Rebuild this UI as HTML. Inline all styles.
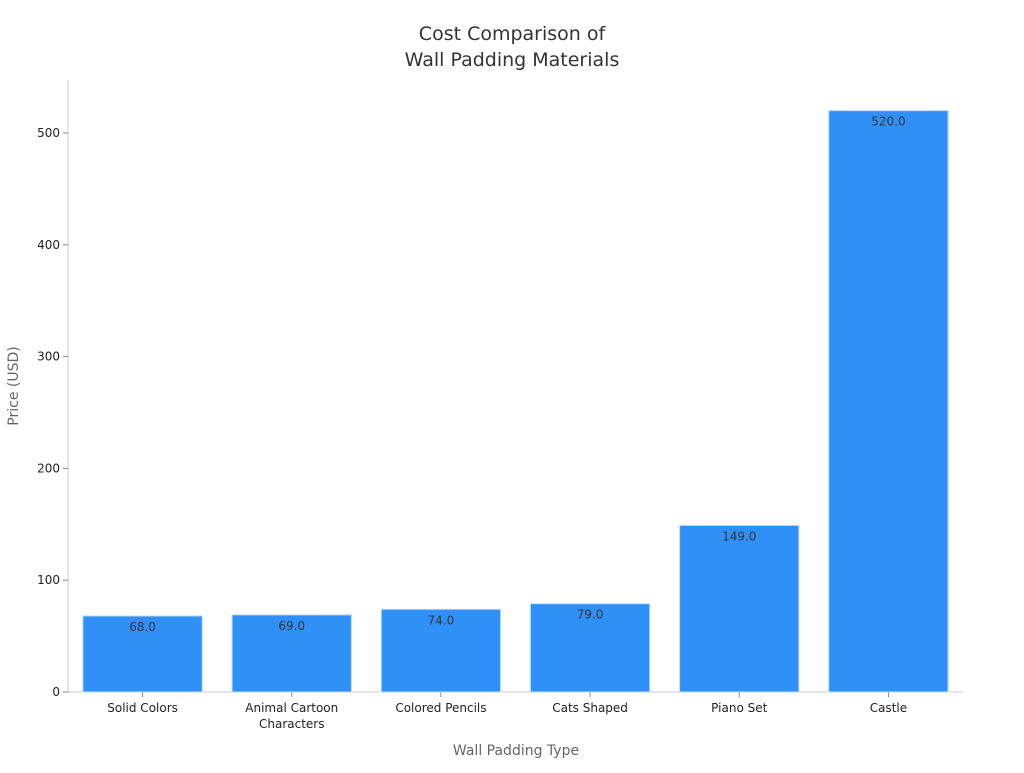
<!DOCTYPE html>
<html><head><meta charset="utf-8"><style>
body{margin:0;background:#fff;}
svg text{font-family:"DejaVu Sans","Liberation Sans",sans-serif;}
</style></head><body>
<svg id="chart" width="1024" height="768" xmlns="http://www.w3.org/2000/svg">
<text x="512" y="40" text-anchor="middle" font-size="19" fill="#333">Cost Comparison of</text>
<text x="512" y="66" text-anchor="middle" font-size="19" fill="#333">Wall Padding Materials</text>
<g id="axes"></g>
<g id="bars"></g>
<text x="516" y="755" text-anchor="middle" font-size="14" fill="#666">Wall Padding Type</text>
<text transform="translate(18,386) rotate(-90)" text-anchor="middle" font-size="14" fill="#666">Price (USD)</text>
</svg>
<script>
const categories=["Solid Colors","Animal Cartoon\nCharacters","Colored Pencils","Cats Shaped","Piano Set","Castle"];
const values=[68,69,74,79,149,520];
const yTicks=[0,100,200,300,400,500];
const NS="http://www.w3.org/2000/svg";
const pLeft=68,pRight=963,pTop=80,pBottom=692;
const yScale=v=>pBottom-v*(pBottom-133)/500;
const band=(pRight-pLeft)/categories.length;
const xCenter=i=>pLeft+band*(i+0.5);
const axesG=document.getElementById('axes'),barsG=document.getElementById('bars');
function mk(tag,attrs,parent,txt){const e=document.createElementNS(NS,tag);for(const k in attrs)e.setAttribute(k,attrs[k]);if(txt!==undefined)e.textContent=txt;parent.appendChild(e);return e;}
let l=mk('line',{x1:pLeft,y1:pTop,x2:pLeft,y2:pBottom,stroke:'#ccc'},axesG);


l=mk('line',{x1:pLeft,y1:pBottom,x2:pRight,y2:pBottom,stroke:'#ccc'},axesG);


yTicks.forEach(t=>{
  const y=yScale(t);
  const tk=mk('line',{x1:pLeft-5,y1:y,x2:pLeft,y2:y,stroke:'#888'},axesG);
  
  
  const tx=mk('text',{x:pLeft-8,y:y+4,'text-anchor':'end','font-size':12,fill:'#222'},axesG,String(t));
  
  
});
categories.forEach((c,i)=>{
  const cx=xCenter(i),w=band*0.8,y=yScale(values[i]);
  const r=mk('rect',{x:cx-w/2,y:y,width:w,height:pBottom-y,fill:'#2f91f7',stroke:'#bfdcfb','stroke-width':1},barsG);
  
  
  const v=mk('text',{x:cx,y:y+15,'text-anchor':'middle','font-size':12,fill:'#333'},barsG,values[i].toFixed(1));
  
  
  const tk=mk('line',{x1:cx,y1:pBottom,x2:cx,y2:pBottom+5,stroke:'#888'},axesG);
  
  
  c.split('\n').forEach((ln,j)=>{
    const t=mk('text',{x:cx,y:712+j*16,'text-anchor':'middle','font-size':12,fill:'#222'},axesG,ln);
    
    
  });
});
</script>
</body></html>
